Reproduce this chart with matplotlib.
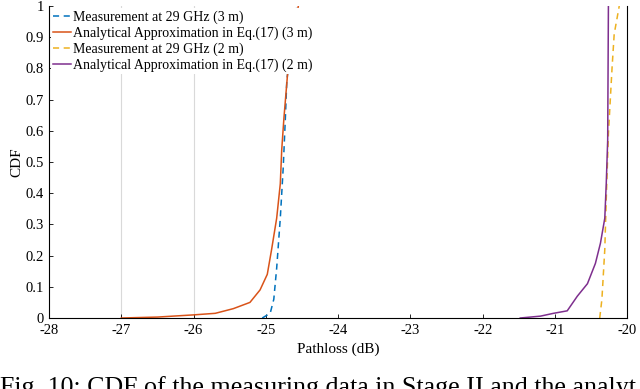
import numpy as np
import matplotlib
matplotlib.use('Agg')
import matplotlib.pyplot as plt

plt.rcParams['font.family'] = ['Liberation Serif', 'DejaVu Serif']
plt.rcParams['axes.unicode_minus'] = False

# Measurement at 29 GHz (3 m)
meas3_x = [-25.05, -24.94, -24.89, -24.85, -24.80, -24.76, -24.73, -24.71, -24.65, -24.57]
meas3_y = [0.0, 0.015, 0.06, 0.16, 0.32, 0.48, 0.64, 0.76, 0.88, 1.0]

# Analytical approximation in Eq.(17) (3 m)
ana3_x = [-27.0, -26.5, -26.0, -25.70, -25.45, -25.22, -25.08, -24.98, -24.92,
          -24.85, -24.80, -24.78, -24.75, -24.70, -24.63, -24.55]
ana3_y = [0.0, 0.003, 0.01, 0.015, 0.03, 0.05, 0.09, 0.14, 0.22,
          0.32, 0.43, 0.54, 0.64, 0.78, 0.9, 1.0]

# Measurement at 29 GHz (2 m)
meas2_x = [-20.38, -20.35, -20.31, -20.29, -20.26, -20.21, -20.18, -20.11]
meas2_y = [0.0, 0.06, 0.22, 0.38, 0.59, 0.80, 0.91, 1.0]

# Analytical approximation in Eq.(17) (2 m)
ana2_x = [-21.48, -21.20, -21.02, -20.83, -20.69, -20.55, -20.44, -20.37,
          -20.31, -20.29, -20.27, -20.26]
ana2_y = [0.0, 0.006, 0.015, 0.023, 0.07, 0.11, 0.175, 0.24,
          0.32, 0.43, 0.57, 1.0]

fig = plt.figure(figsize=(6.4, 3.89), dpi=100)
ax = fig.add_axes([0.0766, 0.1825, 0.9034, 0.8021])

ax.axvline(-27, color='#d9d9d9', lw=0.8, zorder=0)
ax.axvline(-26, color='#d9d9d9', lw=0.8, zorder=0)

ax.plot(meas3_x, meas3_y, '--', color='#0072BD', lw=1.1, dashes=(4, 3),
        label='Measurement at 29 GHz (3 m)')
ax.plot(ana3_x, ana3_y, '-', color='#D95319', lw=1.1,
        label='Analytical Approximation in Eq.(17) (3 m)')
ax.plot(meas2_x, meas2_y, '--', color='#EDB120', lw=1.1, dashes=(4, 3),
        label='Measurement at 29 GHz (2 m)')
ax.plot(ana2_x, ana2_y, '-', color='#7E2F8E', lw=1.1,
        label='Analytical Approximation in Eq.(17) (2 m)')

ax.set_xlim(-28, -20)
ax.set_ylim(0, 1)
ax.set_xticks(np.arange(-28, -19, 1))
ax.set_yticks(np.arange(0, 1.01, 0.1))
ax.set_yticklabels(['0', '0.1', '0.2', '0.3', '0.4', '0.5', '0.6',
                    '0.7', '0.8', '0.9', '1'])
ax.tick_params(labelsize=10.5, direction='in', length=3, width=0.6)
ax.tick_params(axis='x', pad=4)
ax.spines['top'].set_visible(False)
for s in ['left', 'bottom', 'right']:
    ax.spines[s].set_linewidth(0.8)

ax.set_xlabel('Pathloss (dB)', fontsize=11, labelpad=4)
ax.set_ylabel('CDF', fontsize=11, labelpad=2)

leg = ax.legend(loc='upper left', fontsize=10, frameon=True, fancybox=False,
                handlelength=1.3, handletextpad=0.15, borderpad=0.15,
                labelspacing=0.18, borderaxespad=0.15)
leg.get_frame().set_edgecolor('none')
leg.get_frame().set_facecolor('white')
leg.get_frame().set_alpha(1.0)
leg.set_zorder(5)

fig.text(0.0, -0.025, 'Fig. 10: CDF of the measuring data in Stage II and the analyt',
         fontsize=18.7, ha='left', va='bottom')

fig.savefig('out.png', dpi=100)
